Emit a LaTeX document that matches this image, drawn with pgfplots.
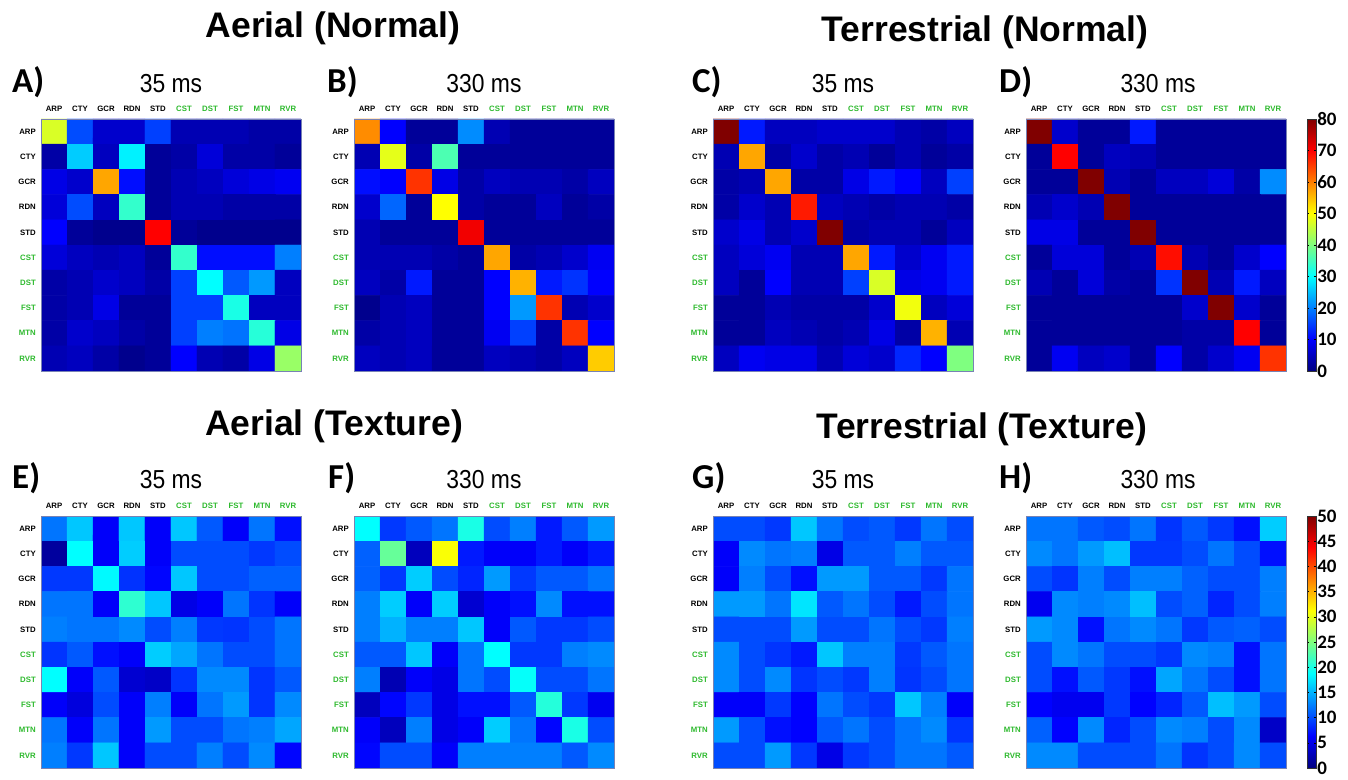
\documentclass[border=0pt]{standalone}
\usepackage{pgfplots}
\pgfplotsset{compat=1.18}
\usepackage{pgfplotstable}
\usepackage{fontspec}
\setmainfont{Liberation Sans}
\newfontfamily\carl{Carlito}
\definecolor{lgreen}{RGB}{45,185,45}
\definecolor{frame}{RGB}{120,130,180}
\newcommand\G[1]{\textcolor{lgreen}{#1}}
\newcommand\ms[1]{\scalebox{0.88}[1]{\fontsize{26}{26}\selectfont #1}}
\newcommand\lett[1]{{\carl\bfseries\fontsize{35}{35}\selectfont #1}}
\newcommand\ttl[1]{{\bfseries\fontsize{35.5}{36}\selectfont #1}}

% confusion matrices: x = predicted, y = true class (0 = ARP ... 9 = RVR), c = percent
\pgfplotstableread[row sep=\\]{
x y c\\
0 0 47\\ 1 0 16\\ 2 0 6\\ 3 0 6\\ 4 0 15\\ 5 0 4\\ 6 0 4\\ 7 0 4\\ 8 0 3\\ 9 0 3\\
0 1 3\\ 1 1 26\\ 2 1 5\\ 3 1 29\\ 4 1 2\\ 5 1 3\\ 6 1 7\\ 7 1 3\\ 8 1 3\\ 9 1 2\\
0 2 8\\ 1 2 6\\ 2 2 57\\ 3 2 11\\ 4 2 2\\ 5 2 4\\ 6 2 5\\ 7 2 7\\ 8 2 8\\ 9 2 9\\
0 3 7\\ 1 3 16\\ 2 3 5\\ 3 3 34\\ 4 3 2\\ 5 3 4\\ 6 3 4\\ 7 3 3\\ 8 3 3\\ 9 3 3\\
0 4 10\\ 1 4 2\\ 2 4 1\\ 3 4 1\\ 4 4 70\\ 5 4 2\\ 6 4 1\\ 7 4 1\\ 8 4 1\\ 9 4 1\\
0 5 7\\ 1 5 5\\ 2 5 4\\ 3 5 5\\ 4 5 2\\ 5 5 34\\ 6 5 11\\ 7 5 11\\ 8 5 11\\ 9 5 20\\
0 6 3\\ 1 6 4\\ 2 6 6\\ 3 6 5\\ 4 6 3\\ 5 6 15\\ 6 6 30\\ 7 6 17\\ 8 6 22\\ 9 6 5\\
0 7 3\\ 1 7 4\\ 2 7 8\\ 3 7 2\\ 4 7 2\\ 5 7 15\\ 6 7 15\\ 7 7 32\\ 8 7 5\\ 9 7 5\\
0 8 3\\ 1 8 6\\ 2 8 5\\ 3 8 3\\ 4 8 2\\ 5 8 15\\ 6 8 20\\ 7 8 19\\ 8 8 33\\ 9 8 8\\
0 9 4\\ 1 9 5\\ 2 9 3\\ 3 9 1\\ 4 9 2\\ 5 9 10\\ 6 9 4\\ 7 9 3\\ 8 9 8\\ 9 9 42\\
}\tabA

\pgfplotstableread[row sep=\\]{
x y c\\
0 0 59\\ 1 0 10\\ 2 0 2\\ 3 0 2\\ 4 0 21\\ 5 0 4\\ 6 0 2\\ 7 0 2\\ 8 0 2\\ 9 0 2\\
0 1 4\\ 1 1 48\\ 2 1 3\\ 3 1 36\\ 4 1 2\\ 5 1 2\\ 6 1 2\\ 7 1 2\\ 8 1 2\\ 9 1 2\\
0 2 11\\ 1 2 10\\ 2 2 66\\ 3 2 8\\ 4 2 3\\ 5 2 5\\ 6 2 4\\ 7 2 4\\ 8 2 3\\ 9 2 5\\
0 3 6\\ 1 3 18\\ 2 3 2\\ 3 3 50\\ 4 3 3\\ 5 3 2\\ 6 3 2\\ 7 3 5\\ 8 3 2\\ 9 3 3\\
0 4 4\\ 1 4 2\\ 2 4 2\\ 3 4 2\\ 4 4 71\\ 5 4 2\\ 6 4 2\\ 7 4 2\\ 8 4 2\\ 9 4 2\\
0 5 4\\ 1 5 4\\ 2 5 4\\ 3 5 3\\ 4 5 2\\ 5 5 57\\ 6 5 3\\ 7 5 4\\ 8 5 6\\ 9 5 9\\
0 6 5\\ 1 6 3\\ 2 6 12\\ 3 6 2\\ 4 6 2\\ 5 6 10\\ 6 6 56\\ 7 6 12\\ 8 6 14\\ 9 6 10\\
0 7 1\\ 1 7 4\\ 2 7 5\\ 3 7 2\\ 4 7 2\\ 5 7 10\\ 6 7 22\\ 7 7 66\\ 8 7 4\\ 9 7 6\\
0 8 3\\ 1 8 4\\ 2 8 5\\ 3 8 2\\ 4 8 2\\ 5 8 9\\ 6 8 15\\ 7 8 3\\ 8 8 66\\ 9 8 10\\
0 9 5\\ 1 9 4\\ 2 9 5\\ 3 9 2\\ 4 9 2\\ 5 9 5\\ 6 9 4\\ 7 9 3\\ 8 9 5\\ 9 9 54\\
}\tabB

\pgfplotstableread[row sep=\\]{
x y c\\
0 0 80\\ 1 0 12\\ 2 0 5\\ 3 0 5\\ 4 0 6\\ 5 0 6\\ 6 0 6\\ 7 0 4\\ 8 0 3\\ 9 0 5\\
0 1 4\\ 1 1 57\\ 2 1 3\\ 3 1 6\\ 4 1 3\\ 5 1 4\\ 6 1 2\\ 7 1 4\\ 8 1 2\\ 9 1 3\\
0 2 3\\ 1 2 4\\ 2 2 57\\ 3 2 3\\ 4 2 3\\ 5 2 8\\ 6 2 12\\ 7 2 10\\ 8 2 5\\ 9 2 15\\
0 3 3\\ 1 3 6\\ 2 3 4\\ 3 3 68\\ 4 3 5\\ 5 3 4\\ 6 3 3\\ 7 3 4\\ 8 3 4\\ 9 3 3\\
0 4 6\\ 1 4 8\\ 2 4 4\\ 3 4 6\\ 4 4 80\\ 5 4 3\\ 6 4 4\\ 7 4 4\\ 8 4 2\\ 9 4 5\\
0 5 5\\ 1 5 7\\ 2 5 9\\ 3 5 4\\ 4 5 4\\ 5 5 57\\ 6 5 12\\ 7 5 6\\ 8 5 9\\ 9 5 12\\
0 6 5\\ 1 6 2\\ 2 6 10\\ 3 6 4\\ 4 6 4\\ 5 6 15\\ 6 6 47\\ 7 6 8\\ 8 6 9\\ 9 6 12\\
0 7 2\\ 1 7 2\\ 2 7 4\\ 3 7 3\\ 4 7 3\\ 5 7 3\\ 6 7 6\\ 7 7 49\\ 8 7 5\\ 9 7 7\\
0 8 2\\ 1 8 2\\ 2 8 5\\ 3 8 4\\ 4 8 3\\ 5 8 4\\ 6 8 8\\ 7 8 3\\ 8 8 56\\ 9 8 4\\
0 9 5\\ 1 9 9\\ 2 9 8\\ 3 9 8\\ 4 9 4\\ 5 9 7\\ 6 9 6\\ 7 9 13\\ 8 9 10\\ 9 9 40\\
}\tabC

\pgfplotstableread[row sep=\\]{
x y c\\
0 0 80\\ 1 0 6\\ 2 0 2\\ 3 0 2\\ 4 0 12\\ 5 0 2\\ 6 0 2\\ 7 0 2\\ 8 0 2\\ 9 0 2\\
0 1 2\\ 1 1 70\\ 2 1 2\\ 3 1 5\\ 4 1 4\\ 5 1 2\\ 6 1 2\\ 7 1 2\\ 8 1 2\\ 9 1 2\\
0 2 2\\ 1 2 2\\ 2 2 80\\ 3 2 4\\ 4 2 2\\ 5 2 5\\ 6 2 5\\ 7 2 7\\ 8 2 3\\ 9 2 21\\
0 3 4\\ 1 3 6\\ 2 3 4\\ 3 3 80\\ 4 3 2\\ 5 3 2\\ 6 3 2\\ 7 3 2\\ 8 3 2\\ 9 3 2\\
0 4 8\\ 1 4 8\\ 2 4 2\\ 3 4 2\\ 4 4 80\\ 5 4 2\\ 6 4 2\\ 7 4 2\\ 8 4 2\\ 9 4 2\\
0 5 2\\ 1 5 7\\ 2 5 7\\ 3 5 2\\ 4 5 4\\ 5 5 69\\ 6 5 4\\ 7 5 2\\ 8 5 6\\ 9 5 10\\
0 6 4\\ 1 6 2\\ 2 6 7\\ 3 6 3\\ 4 6 2\\ 5 6 14\\ 6 6 80\\ 7 6 4\\ 8 6 12\\ 9 6 5\\
0 7 2\\ 1 7 2\\ 2 7 2\\ 3 7 2\\ 4 7 2\\ 5 7 2\\ 6 7 6\\ 7 7 80\\ 8 7 6\\ 9 7 2\\
0 8 2\\ 1 8 2\\ 2 8 2\\ 3 8 2\\ 4 8 2\\ 5 8 2\\ 6 8 3\\ 7 8 3\\ 8 8 70\\ 9 8 2\\
0 9 2\\ 1 9 9\\ 2 9 5\\ 3 9 6\\ 4 9 2\\ 5 9 10\\ 6 9 3\\ 7 9 6\\ 8 9 9\\ 9 9 66\\
}\tabD

\pgfplotstableread[row sep=\\]{
x y c\\
0 0 12\\ 1 0 16\\ 2 0 6\\ 3 0 16\\ 4 0 6\\ 5 0 16\\ 6 0 10.6\\ 7 0 6\\ 8 0 12\\ 9 0 7\\
0 1 1.5\\ 1 1 18.75\\ 2 1 6\\ 3 1 16.3\\ 4 1 6\\ 5 1 10\\ 6 1 10\\ 7 1 10\\ 8 1 9\\ 9 1 10\\
0 2 9\\ 1 2 9\\ 2 2 18.5\\ 3 2 8.7\\ 4 2 6.5\\ 5 2 16\\ 6 2 10\\ 7 2 10\\ 8 2 11\\ 9 2 11\\
0 3 12\\ 1 3 12\\ 2 3 6\\ 3 3 21\\ 4 3 16\\ 5 3 5\\ 6 3 6\\ 7 3 12\\ 8 3 8.8\\ 9 3 6\\
0 4 12.5\\ 1 4 12\\ 2 4 12\\ 3 4 13\\ 4 4 10\\ 5 4 12.5\\ 6 4 9\\ 7 4 8.8\\ 8 4 10\\ 9 4 12\\
0 5 8.8\\ 1 5 10.6\\ 2 5 7\\ 3 5 6\\ 4 5 16.3\\ 5 5 14.4\\ 6 5 12\\ 7 5 10\\ 8 5 10\\ 9 5 12\\
0 6 18.75\\ 1 6 6\\ 2 6 10.6\\ 3 6 4\\ 4 6 3.5\\ 5 6 8.8\\ 6 6 13\\ 7 6 13\\ 8 6 8.8\\ 9 6 10.6\\
0 7 6\\ 1 7 4.6\\ 2 7 10\\ 3 7 6\\ 4 7 12.5\\ 5 7 6\\ 6 7 12\\ 7 7 13.8\\ 8 7 8.8\\ 9 7 13\\
0 8 12\\ 1 8 6\\ 2 8 12\\ 3 8 6\\ 4 8 13.8\\ 5 8 10\\ 6 8 10\\ 7 8 12\\ 8 8 12.5\\ 9 8 14.4\\
0 9 12.5\\ 1 9 9\\ 2 9 16\\ 3 9 6\\ 4 9 10\\ 5 9 10\\ 6 9 12.5\\ 7 9 10\\ 8 9 13\\ 9 9 6.5\\
}\tabE

\pgfplotstableread[row sep=\\]{
x y c\\
0 0 18.75\\ 1 0 9\\ 2 0 10.6\\ 3 0 12\\ 4 0 20\\ 5 0 10\\ 6 0 12.5\\ 7 0 7.5\\ 8 0 10.6\\ 9 0 13.8\\
0 1 11\\ 1 1 23.75\\ 2 1 3\\ 3 1 31\\ 4 1 7.5\\ 5 1 6\\ 6 1 6\\ 7 1 7.5\\ 8 1 6\\ 9 1 7.5\\
0 2 11\\ 1 2 9\\ 2 2 16.3\\ 3 2 10\\ 4 2 8\\ 5 2 13.8\\ 6 2 9\\ 7 2 10.6\\ 8 2 10.6\\ 9 2 12\\
0 3 12.5\\ 1 3 16.3\\ 2 3 6\\ 3 3 16.3\\ 4 3 4\\ 5 3 6\\ 6 3 7\\ 7 3 13\\ 8 3 7\\ 9 3 7\\
0 4 12.5\\ 1 4 15\\ 2 4 12.5\\ 3 4 12.5\\ 4 4 16\\ 5 4 6\\ 6 4 10.6\\ 7 4 9\\ 8 4 9\\ 9 4 10\\
0 5 10.6\\ 1 5 10.6\\ 2 5 16\\ 3 5 6\\ 4 5 12\\ 5 5 18.75\\ 6 5 9\\ 7 5 9\\ 8 5 12.5\\ 9 5 13\\
0 6 12.5\\ 1 6 2.5\\ 2 6 6\\ 3 6 5\\ 4 6 12\\ 5 6 10\\ 6 6 19\\ 7 6 10\\ 8 6 10\\ 9 6 12\\
0 7 3\\ 1 7 6.5\\ 2 7 9\\ 3 7 5\\ 4 7 7\\ 5 7 7\\ 6 7 10.6\\ 7 7 20.5\\ 8 7 9\\ 9 7 5.5\\
0 8 6\\ 1 8 3\\ 2 8 12.5\\ 3 8 5\\ 4 8 6\\ 5 8 16.3\\ 6 8 12\\ 7 8 6.5\\ 8 8 20\\ 9 8 10\\
0 9 6.5\\ 1 9 10\\ 2 9 10\\ 3 9 6\\ 4 9 12.5\\ 5 9 12.5\\ 6 9 12.5\\ 7 9 12.5\\ 8 9 10.6\\ 9 9 13\\
}\tabF

\pgfplotstableread[row sep=\\]{
x y c\\
0 0 10\\ 1 0 10\\ 2 0 9\\ 3 0 16\\ 4 0 12\\ 5 0 10\\ 6 0 10.6\\ 7 0 9\\ 8 0 12\\ 9 0 10\\
0 1 6\\ 1 1 13\\ 2 1 12\\ 3 1 12.5\\ 4 1 5\\ 5 1 10.6\\ 6 1 10.6\\ 7 1 12.5\\ 8 1 10.6\\ 9 1 10.6\\
0 2 6\\ 1 2 12.5\\ 2 2 10\\ 3 2 7\\ 4 2 13.8\\ 5 2 13.8\\ 6 2 10.6\\ 7 2 10.6\\ 8 2 9\\ 9 2 12\\
0 3 13.8\\ 1 3 13.8\\ 2 3 12\\ 3 3 17.5\\ 4 3 10.6\\ 5 3 12\\ 6 3 10\\ 7 3 7.5\\ 8 3 10\\ 9 3 12\\
0 4 10\\ 1 4 10\\ 2 4 10\\ 3 4 13.8\\ 4 4 10\\ 5 4 10\\ 6 4 12\\ 7 4 10\\ 8 4 9\\ 9 4 12.5\\
0 5 13\\ 1 5 10\\ 2 5 8.8\\ 3 5 7.5\\ 4 5 16\\ 5 5 12.5\\ 6 5 12.5\\ 7 5 9\\ 8 5 10.6\\ 9 5 12\\
0 6 13\\ 1 6 10\\ 2 6 13\\ 3 6 8.8\\ 4 6 10\\ 5 6 9\\ 6 6 12.5\\ 7 6 8.8\\ 8 6 10\\ 9 6 12\\
0 7 6\\ 1 7 6\\ 2 7 9\\ 3 7 6.3\\ 4 7 12\\ 5 7 10\\ 6 7 9\\ 7 7 16\\ 8 7 12.5\\ 9 7 6\\
0 8 13.8\\ 1 8 10\\ 2 8 7\\ 3 8 6.3\\ 4 8 10.6\\ 5 8 12\\ 6 8 10\\ 7 8 12\\ 8 8 13\\ 9 8 8.8\\
0 9 10\\ 1 9 10\\ 2 9 13.8\\ 3 9 9\\ 4 9 5\\ 5 9 9\\ 6 9 10\\ 7 9 12\\ 8 9 12\\ 9 9 10.6\\
}\tabG

\pgfplotstableread[row sep=\\]{
x y c\\
0 0 12\\ 1 0 12\\ 2 0 10.6\\ 3 0 10\\ 4 0 12\\ 5 0 8.8\\ 6 0 10.6\\ 7 0 9\\ 8 0 7\\ 9 0 16.3\\
0 1 13\\ 1 1 12\\ 2 1 13.8\\ 3 1 15.6\\ 4 1 9\\ 5 1 9\\ 6 1 10\\ 7 1 12\\ 8 1 10\\ 9 1 7\\
0 2 10\\ 1 2 8.8\\ 2 2 12.5\\ 3 2 10\\ 4 2 12.5\\ 5 2 12.5\\ 6 2 11\\ 7 2 10\\ 8 2 10\\ 9 2 12.5\\
0 3 5.5\\ 1 3 13\\ 2 3 12.5\\ 3 3 13\\ 4 3 15.6\\ 5 3 10\\ 6 3 11\\ 7 3 8\\ 8 3 10\\ 9 3 12.5\\
0 4 13.8\\ 1 4 13\\ 2 4 7\\ 3 4 12\\ 4 4 13\\ 5 4 12\\ 6 4 9\\ 7 4 10.6\\ 8 4 11\\ 9 4 10\\
0 5 10\\ 1 5 13\\ 2 5 12\\ 3 5 10\\ 4 5 10\\ 5 5 9\\ 6 5 13\\ 7 5 12.5\\ 8 5 7\\ 9 5 12\\
0 6 10\\ 1 6 7\\ 2 6 10.6\\ 3 6 9\\ 4 6 7\\ 5 6 14.4\\ 6 6 12\\ 7 6 10\\ 8 6 7\\ 9 6 12\\
0 7 6.3\\ 1 7 5.5\\ 2 7 5.5\\ 3 7 9\\ 4 7 6.3\\ 5 7 8\\ 6 7 10.6\\ 7 7 15.6\\ 8 7 13.8\\ 9 7 10\\
0 8 11\\ 1 8 6.3\\ 2 8 13\\ 3 8 8\\ 4 8 10\\ 5 8 13\\ 6 8 12.5\\ 7 8 10\\ 8 8 13\\ 9 8 3.5\\
0 9 13\\ 1 9 13\\ 2 9 10\\ 3 9 10\\ 4 9 10\\ 5 9 12\\ 6 9 8.8\\ 7 9 10\\ 8 9 13\\ 9 9 10\\
}\tabH

\pgfplotsset{
  cm/.style={
    scale only axis, width=260pt, height=252pt,
    xmin=-0.5, xmax=9.5, ymin=-0.5, ymax=9.5, y dir=reverse,
    enlargelimits=false, axis on top,
    axis line style={draw=frame, line width=0.6pt},
    colormap/jet,
    xtick={0,...,9}, ytick={0,...,9},
    xticklabels={ARP,CTY,GCR,RDN,STD,\G{CST},\G{DST},\G{FST},\G{MTN},\G{RVR}},
    yticklabels={ARP,CTY,GCR,RDN,STD,\G{CST},\G{DST},\G{FST},\G{MTN},\G{RVR}},
    xticklabel pos=upper,
    major tick length=0pt,
    tick label style={font=\fontsize{7.8}{8}\selectfont\bfseries},
    xticklabel style={inner sep=0pt, yshift=7pt},
    yticklabel style={inner sep=0pt, xshift=-5pt},
  },
  top/.style={cm, point meta min=0, point meta max=80},
  bot/.style={cm, point meta min=0, point meta max=50},
  cbar/.style={colorbar, colorbar style={at={(1.081,1)}, anchor=north west,
    scale only axis, width=9pt, height=252pt, ytick={#1},
    major tick length=2pt, tick style={black, line width=0.5pt},
    axis line style={black!80, line width=0.4pt},
    yticklabel style={font=\carl\bfseries\fontsize{19}{19}\selectfont,
      /pgf/number format/assume math mode=true, inner sep=1pt}}},
}

\begin{document}
\begin{tikzpicture}
\path[use as bounding box] (0,0) rectangle (1348pt,779pt);

\begin{axis}[top, at={(41pt,408pt)}, anchor=south west]
\addplot[matrix plot*, mesh/cols=10, point meta=explicit] table[x=x, y=y, meta=c] {\tabA};
\end{axis}
\begin{axis}[top, at={(354pt,408pt)}, anchor=south west]
\addplot[matrix plot*, mesh/cols=10, point meta=explicit] table[x=x, y=y, meta=c] {\tabB};
\end{axis}
\begin{axis}[top, at={(713pt,408pt)}, anchor=south west]
\addplot[matrix plot*, mesh/cols=10, point meta=explicit] table[x=x, y=y, meta=c] {\tabC};
\end{axis}
\begin{axis}[top, cbar={0,10,...,80}, at={(1026pt,408pt)}, anchor=south west]
\addplot[matrix plot*, mesh/cols=10, point meta=explicit] table[x=x, y=y, meta=c] {\tabD};
\end{axis}

\begin{axis}[bot, at={(41pt,11pt)}, anchor=south west]
\addplot[matrix plot*, mesh/cols=10, point meta=explicit] table[x=x, y=y, meta=c] {\tabE};
\end{axis}
\begin{axis}[bot, at={(354pt,11pt)}, anchor=south west]
\addplot[matrix plot*, mesh/cols=10, point meta=explicit] table[x=x, y=y, meta=c] {\tabF};
\end{axis}
\begin{axis}[bot, at={(713pt,11pt)}, anchor=south west]
\addplot[matrix plot*, mesh/cols=10, point meta=explicit] table[x=x, y=y, meta=c] {\tabG};
\end{axis}
\begin{axis}[bot, cbar={0,5,...,50}, at={(1026pt,11pt)}, anchor=south west]
\addplot[matrix plot*, mesh/cols=10, point meta=explicit] table[x=x, y=y, meta=c] {\tabH};
\end{axis}

% section titles
\node[anchor=base] at (333pt,741pt) {\ttl{Aerial (Normal)}};
\node[anchor=base] at (985pt,737pt) {\ttl{Terrestrial (Normal)}};
\node[anchor=base] at (334pt,343pt) {\ttl{Aerial (Texture)}};
\node[anchor=base] at (982pt,340pt) {\ttl{Terrestrial (Texture)}};

% panel letters
\node[anchor=base west, inner sep=0pt] at (12pt,686pt) {\lett{A)}};
\node[anchor=base west, inner sep=0pt] at (327pt,686pt) {\lett{B)}};
\node[anchor=base west, inner sep=0pt] at (692pt,686pt) {\lett{C)}};
\node[anchor=base west, inner sep=0pt] at (999pt,686pt) {\lett{D)}};
\node[anchor=base west, inner sep=0pt] at (12pt,290pt) {\lett{E)}};
\node[anchor=base west, inner sep=0pt] at (328pt,290pt) {\lett{F)}};
\node[anchor=base west, inner sep=0pt] at (692pt,290pt) {\lett{G)}};
\node[anchor=base west, inner sep=0pt] at (999pt,290pt) {\lett{H)}};

% durations
\node[anchor=base, inner sep=0pt] at (171pt,686pt) {\ms{35 ms}};
\node[anchor=base, inner sep=0pt] at (484pt,686pt) {\ms{330 ms}};
\node[anchor=base, inner sep=0pt] at (843pt,686pt) {\ms{35 ms}};
\node[anchor=base, inner sep=0pt] at (1158pt,686pt) {\ms{330 ms}};
\node[anchor=base, inner sep=0pt] at (171pt,290pt) {\ms{35 ms}};
\node[anchor=base, inner sep=0pt] at (484pt,290pt) {\ms{330 ms}};
\node[anchor=base, inner sep=0pt] at (843pt,290pt) {\ms{35 ms}};
\node[anchor=base, inner sep=0pt] at (1158pt,290pt) {\ms{330 ms}};
\end{tikzpicture}
\end{document}
